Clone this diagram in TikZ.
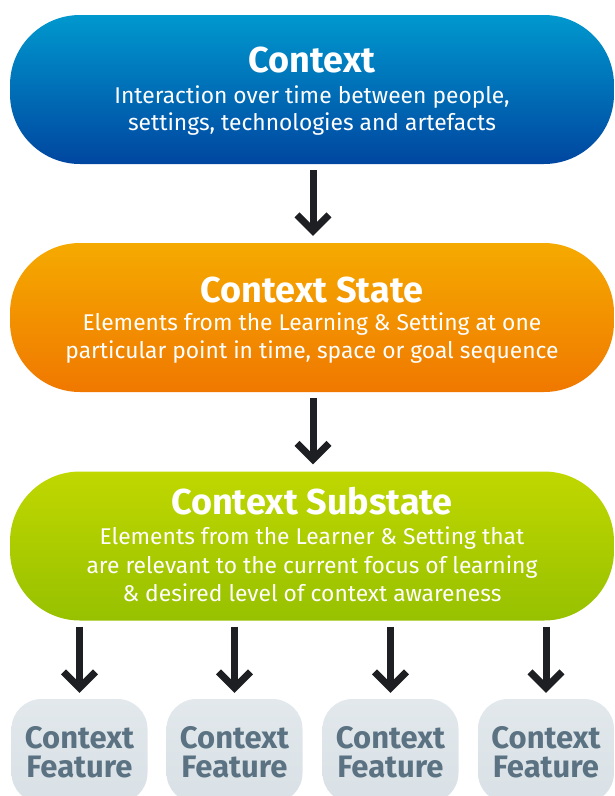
\documentclass[tikz,border=0pt]{standalone}
\usepackage{fontspec}
\setmainfont{Fira Sans}
\definecolor{blueT}{HTML}{0098CE}
\definecolor{blueB}{HTML}{0046A0}
\definecolor{orT}{HTML}{F5AA00}
\definecolor{orB}{HTML}{F07800}
\definecolor{grT}{HTML}{C0D700}
\definecolor{grB}{HTML}{97C100}
\definecolor{featT}{HTML}{E2E8EC}
\definecolor{featB}{HTML}{D9E1E6}
\definecolor{featTxt}{HTML}{5B7282}
\definecolor{arrowC}{HTML}{1E1F22}
\begin{document}
\begin{tikzpicture}[x=1pt,y=-1pt,
  stagebox/.style={rounded corners=70pt, minimum width=604pt, minimum height=149pt, inner sep=0pt},
  featbox/.style={rounded corners=30pt, minimum width=136pt, minimum height=104pt, inner sep=0pt, top color=featT, bottom color=featB},
  ttl/.style={anchor=base, text=white, inner sep=0pt, font=\fontsize{36}{42}\selectfont\bfseries},
  sub/.style={anchor=base, text=white, inner sep=0pt, font=\fontsize{22.8}{28}\selectfont},
  ftxt/.style={anchor=base, text=featTxt, inner sep=0pt, font=\fontsize{31}{36}\selectfont\bfseries},
  shaft/.style={draw=arrowC, line width=7pt},
  barb/.style={draw=arrowC, line width=7pt, line join=miter},
]
\useasboundingbox (0,0) rectangle (614,796);
\clip (0,0) rectangle (614,796);

% stage boxes
\node[stagebox, top color=blueT, bottom color=blueB] (ctx) at (312,89.5) {};
\node[stagebox, top color=orT, bottom color=orB] (st) at (312,317.5) {};
\node[stagebox, top color=grT, bottom color=grB] (gr) at (312,546) {};

% texts
\node[ttl] (t-ctx) at (312,72.7) {Context};
\node[sub] (s-ctx1) at (312,103.3) {Interaction over time between people,};
\node[sub] (s-ctx2) at (312,130) {settings, technologies and artefacts};

\node[ttl] (t-st) at (312,302.3) {Context State};
\node[sub] (s-st1) at (312,330) {Elements from the Learning \& Setting at one};
\node[sub] (s-st2) at (312,358.7) {particular point in time, space or goal sequence};

\node[ttl] (t-gr) at (312,514) {Context Substate};
\node[sub] (s-gr1) at (312,544.3) {Elements from the Learner \& Setting that};
\node[sub] (s-gr2) at (312,573) {are relevant to the current focus of learning};
\node[sub] (s-gr3) at (312,601.7) {\& desired level of context awareness};

% feature boxes
\node[featbox] (f1) at (79.5,751) {};
\node[featbox] (f2) at (234.5,751) {};
\node[featbox] (f3) at (390.5,751) {};
\node[featbox] (f4) at (546,751) {};
\foreach \f in {f1,f2,f3,f4}{
  \node[ftxt] (\f-a) at ([yshift=3pt]\f.center) {Context};
  \node[ftxt] (\f-b) at ([yshift=-26pt]\f.center) {Feature};
}

% big arrows
\draw[shaft] ([xshift=1pt,yshift=-6pt]ctx.south) -- ([xshift=1pt,yshift=12pt]st.north) coordinate (h1);
\draw[barb] ([shift={(-16pt,16pt)}]h1) -- (h1) -- ([shift={(16pt,16pt)}]h1);
\draw[shaft] ([xshift=1pt,yshift=-6pt]st.south) -- ([xshift=1pt,yshift=12pt]gr.north) coordinate (h2);
\draw[barb] ([shift={(-16pt,16pt)}]h2) -- (h2) -- ([shift={(16pt,16pt)}]h2);

% small arrows
\foreach \f in {f1,f2,f3,f4}{
  \path (\f.north |- gr.south) coordinate (\f-s);
  \draw[shaft] ([yshift=-6pt]\f-s) -- ([yshift=11pt]\f.north) coordinate (\f-h);
  \draw[barb] ([shift={(-16pt,16pt)}]\f-h) -- (\f-h) -- ([shift={(16pt,16pt)}]\f-h);
}
\end{tikzpicture}
\end{document}
